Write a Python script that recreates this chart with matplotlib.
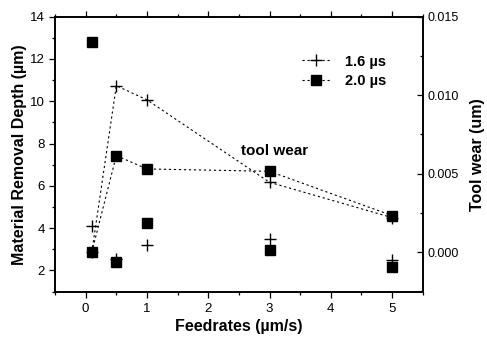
import matplotlib
matplotlib.use("Agg")
import matplotlib.pyplot as plt
from matplotlib.ticker import MultipleLocator

plt.rcParams['font.family'] = ['Liberation Sans', 'DejaVu Sans']

feedrates = [0.1, 0.5, 1, 3, 5]
mrd_16 = [4.1, 2.55, 3.2, 3.5, 2.48]
mrd_20 = [12.8, 2.4, 4.22, 2.98, 2.16]
wear_16 = [0.0, 0.0106, 0.0097, 0.00445, 0.0022]
wear_20 = [0.0, 0.00615, 0.0053, 0.00515, 0.00233]

fig = plt.figure(figsize=(4.87, 3.39), dpi=100)
ax = fig.add_axes([0.113, 0.138, 0.755, 0.813])
ax2 = ax.twinx()

plus_kw = dict(marker='+', markersize=8.5, markeredgewidth=1.0, color='black')
sq_kw = dict(marker='s', markersize=7, color='black')

ax.plot(feedrates, mrd_16, linestyle='none', **plus_kw)
ax.plot(feedrates, mrd_20, linestyle='none', **sq_kw)

ax2.plot(feedrates, wear_16, linestyle=(0, (2, 2.5)), linewidth=0.8,
         label='1.6 \u00b5s', **plus_kw)
ax2.plot(feedrates, wear_20, linestyle=(0, (2, 2.5)), linewidth=0.8,
         label='2.0 \u00b5s', **sq_kw)

ax.set_xlim(-0.5, 5.5)
ax.set_ylim(0.97, 14)
ax2.set_ylim(-0.00255, 0.015)

ax.xaxis.set_major_locator(MultipleLocator(1))
ax.xaxis.set_minor_locator(MultipleLocator(0.5))
ax.yaxis.set_major_locator(MultipleLocator(2))
ax.yaxis.set_minor_locator(MultipleLocator(1))
ax2.yaxis.set_major_locator(MultipleLocator(0.005))
ax2.yaxis.set_minor_locator(MultipleLocator(0.0025))
ax2.yaxis.set_major_formatter(plt.FuncFormatter(lambda v, p: f"{v:.3f}"))

ax.tick_params(axis='x', which='both', direction='out', top=True, labelsize=9.5)
ax.tick_params(axis='x', which='major', length=4, width=0.9)
ax.tick_params(axis='x', which='minor', length=2.5, width=0.9)
ax.tick_params(axis='y', which='both', direction='out', labelsize=9.5)
ax.tick_params(axis='y', which='major', length=4, width=0.9)
ax.tick_params(axis='y', which='minor', length=2.5, width=0.9)
ax2.tick_params(axis='y', which='both', direction='in', labelsize=9)
ax2.tick_params(axis='y', which='major', length=4, width=0.9)
ax2.tick_params(axis='y', which='minor', length=2.5, width=0.9)

for sp in list(ax.spines.values()) + list(ax2.spines.values()):
    sp.set_linewidth(1.2)

ax.set_xlabel('Feedrates (\u00b5m/s)', fontsize=11.5, fontweight='bold', labelpad=3)
ax.set_ylabel('Material Removal Depth (\u00b5m)', fontsize=11.5, fontweight='bold', labelpad=2)
ax2.set_ylabel('Tool wear (um)', fontsize=11.5, fontweight='bold', labelpad=8)

ax2.text(3.09, 0.00646, 'tool wear', fontsize=11, fontweight='bold', ha='center', va='center')

leg = ax2.legend(loc='upper left', bbox_to_anchor=(0.635, 0.91), frameon=False,
                 handlelength=2.0, handletextpad=1.0, labelspacing=0.37,
                 borderpad=0.4, prop={'weight': 'bold', 'size': 10.5})

fig.savefig('out.png', dpi=100)
